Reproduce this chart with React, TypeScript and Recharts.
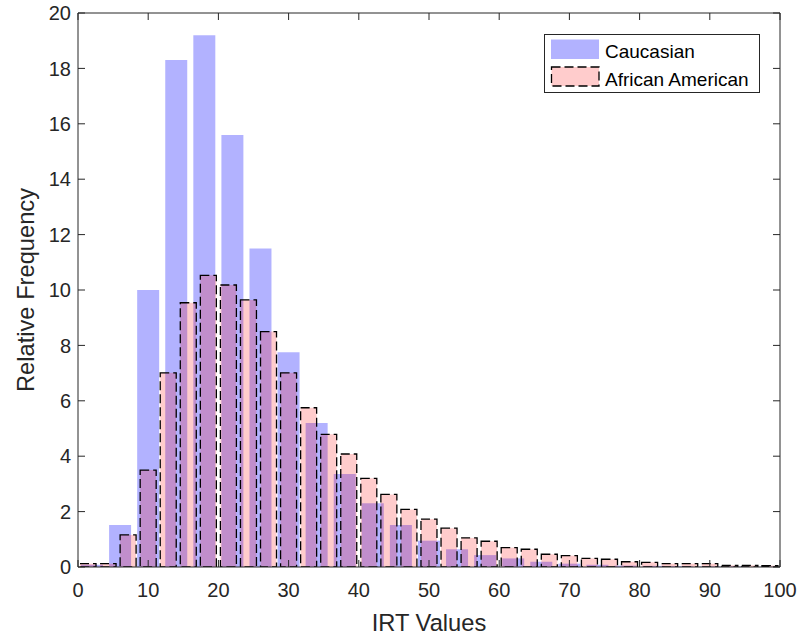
import React from 'react';
import { ComposedChart, Bar, XAxis, YAxis, Legend, Label } from 'recharts';

// Caucasian histogram (bin width 4)
const blueBins = [2, 6, 10, 14, 18, 22, 26, 30, 34, 38, 42, 46, 50, 54, 58, 62, 66, 70, 74, 78, 82, 86, 90, 94, 98];
const blueValues = [0.08, 1.52, 10.0, 18.3, 19.2, 15.6, 11.5, 7.75, 5.2, 3.36, 2.3, 1.52, 0.95, 0.64, 0.43, 0.31, 0.19, 0.12, 0.08, 0.05, 0.04, 0.03, 0.02, 0.02, 0.01];

// African American histogram (35 bins over 0-100)
const pinkBins = [1.43, 4.29, 7.14, 10, 12.86, 15.71, 18.57, 21.43, 24.29, 27.14, 30, 32.86, 35.71, 38.57, 41.43, 44.29, 47.14, 50, 52.86, 55.71, 58.57, 61.43, 64.29, 67.14, 70, 72.86, 75.71, 78.57, 81.43, 84.29, 87.14, 90, 92.86, 95.71, 98.57];
const pinkValues = [0.12, 0.12, 1.16, 3.5, 7.01, 9.54, 10.53, 10.18, 9.64, 8.5, 7.01, 5.75, 4.79, 4.08, 3.2, 2.62, 2.08, 1.73, 1.4, 1.05, 0.93, 0.7, 0.64, 0.46, 0.41, 0.31, 0.28, 0.19, 0.17, 0.12, 0.12, 0.12, 0.06, 0.06, 0.05];

const xTicks = [0, 10, 20, 30, 40, 50, 60, 70, 80, 90, 100];
const yTicks = [0, 2, 4, 6, 8, 10, 12, 14, 16, 18, 20];

const seriesNames = ['Caucasian', 'African American'];

const blueData = blueBins.map((bin, i) => ({ bin, value: blueValues[i] }));
const pinkData = pinkBins.map((bin, i) => ({ bin, value: pinkValues[i] }));

const W = 799;
const H = 637;
const FONT = '"Liberation Sans", Arial, Helvetica, sans-serif';
const AX = '#262626';
const tickStyle = { fontSize: 20, fill: AX, fontFamily: FONT };

const YTitle = () => {
  const cx = 26;
  const cy = 290;
  return (
    <text x={cx} y={cy} transform={`rotate(-90 ${cx} ${cy})`} textAnchor="middle" dominantBaseline="central"
      fontSize={23.7} fill={AX} fontFamily={FONT}>Relative Frequency</text>
  );
};

const XTitle = () => (
  <text x={429} y={631} textAnchor="middle" fontSize={23.7} fill={AX} fontFamily={FONT}>IRT Values</text>
);

const LegendBox = () => (
  <svg width={216} height={59} style={{ display: 'block' }}>
    <rect x={0.5} y={0.5} width={215} height={58} fill="#fff" stroke={AX} strokeWidth={1} />
    <rect x={7} y={5.5} width={48} height={19.5} fill="#0000ff" fillOpacity={0.3} />
    <rect x={7.5} y={33} width={47.5} height={19} fill="#ff0000" fillOpacity={0.2} stroke="#000" strokeWidth={1.3} strokeDasharray="9 4" />
    <text x={61} y={23.5} fontSize={19} fill="#000" fontFamily={FONT}>{seriesNames[0]}</text>
    <text x={61} y={51.5} fontSize={19} fill="#000" fontFamily={FONT}>{seriesNames[1]}</text>
  </svg>
);

export default function App() {
  return (
    <div style={{ position: 'absolute', left: 0, top: 0, width: W, height: H, background: '#fff' }}>
      <div style={{ position: 'absolute', left: 0, top: 0 }}>
        <ComposedChart width={W} height={H} data={blueData} margin={{ top: 13, right: 19, bottom: 70, left: 78 }}>
          <XAxis dataKey="bin" type="category" hide height={0} />
          <YAxis type="number" domain={[0, 20]} hide width={0} />
          <Bar dataKey="value" name={seriesNames[0]} fill="#0000ff" fillOpacity={0.3} barSize={22} isAnimationActive={false} />
        </ComposedChart>
      </div>
      <div style={{ position: 'absolute', left: 0, top: 0 }}>
        <ComposedChart width={W} height={H} data={pinkData} margin={{ top: 0, right: 0, bottom: 0, left: 0 }}>
          <XAxis xAxisId="num" dataKey="bin" type="number" domain={[0, 100]} ticks={xTicks} interval={0} height={70}
            tickSize={-7} tickMargin={23} axisLine={{ stroke: AX }} tickLine={{ stroke: AX }} tick={tickStyle}
            allowDataOverflow>
            <Label content={<XTitle />} />
          </XAxis>
          <XAxis xAxisId="cat" dataKey="bin" type="category" hide height={0} />
          <XAxis xAxisId="top" dataKey="bin" orientation="top" type="number" domain={[0, 100]} ticks={xTicks} interval={0} height={13}
            tickSize={-7} tickFormatter={() => ''} axisLine={{ stroke: AX }} tickLine={{ stroke: AX }} allowDataOverflow />
          <YAxis yAxisId="left" type="number" domain={[0, 20]} ticks={yTicks} interval={0} width={78}
            tickSize={-7} tickMargin={14} axisLine={{ stroke: AX }} tickLine={{ stroke: AX }} tick={tickStyle}
            allowDataOverflow>
            <Label content={<YTitle />} />
          </YAxis>
          <YAxis yAxisId="right" orientation="right" type="number" domain={[0, 20]} ticks={yTicks} interval={0} width={19}
            tickSize={-7} tickFormatter={() => ''} axisLine={{ stroke: AX }} tickLine={{ stroke: AX }} allowDataOverflow />
          <Bar xAxisId="cat" yAxisId="left" dataKey="value" name={seriesNames[1]} fill="#ff0000" fillOpacity={0.2}
            stroke="#000" strokeWidth={1.3} strokeDasharray="9 4" barSize={16} isAnimationActive={false} />
          <Legend content={<LegendBox />} layout="horizontal" verticalAlign="middle" align="center"
            wrapperStyle={{ left: 544, top: 34, width: 216, height: 59 }} />
        </ComposedChart>
      </div>
    </div>
  );
}
